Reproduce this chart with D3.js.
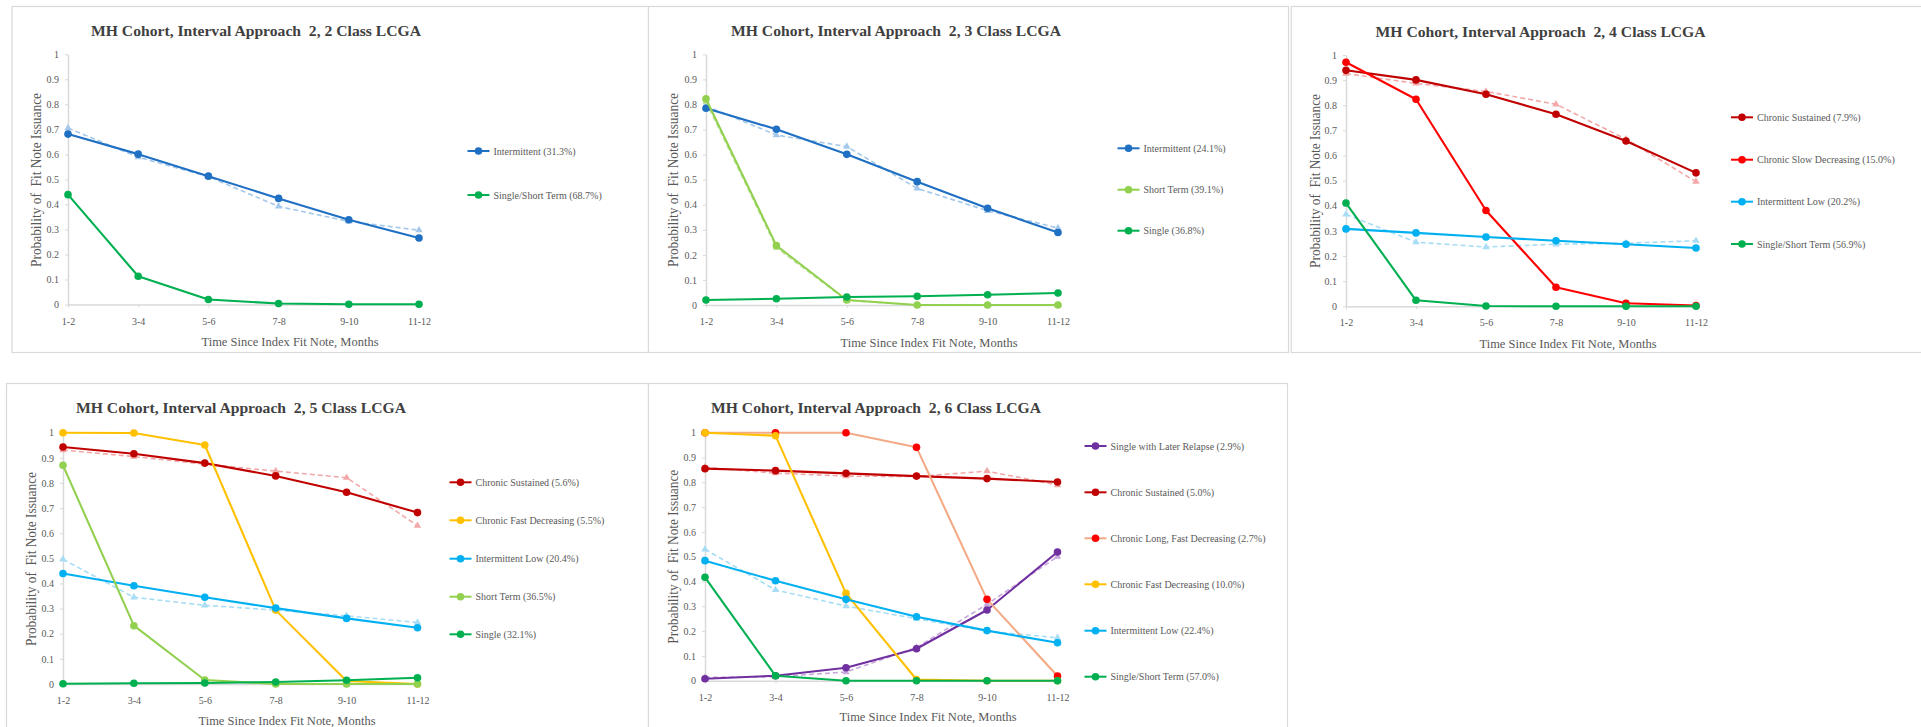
<!DOCTYPE html>
<html>
<head>
<meta charset="utf-8">
<script src="https://cdn.jsdelivr.net/npm/d3@7/dist/d3.min.js"></script>
<style>
  html, body { margin: 0; padding: 0; background: #ffffff; }
  svg { display: block; }
  text { font-family: "Liberation Serif", "Times New Roman", serif; white-space: pre; }
</style>
</head>
<body>
<svg id="chart" width="1921" height="727"></svg>
<script>
// ---- Shared categories and axis ticks ----
const months = ["1-2", "3-4", "5-6", "7-8", "9-10", "11-12"];
const probTicks = [0, 0.1, 0.2, 0.3, 0.4, 0.5, 0.6, 0.7, 0.8, 0.9, 1];
const probTickLabels = ["0", "0.1", "0.2", "0.3", "0.4", "0.5", "0.6", "0.7", "0.8", "0.9", "1"];

const panelTitles = [
  "MH Cohort, Interval Approach  2, 2 Class LCGA",
  "MH Cohort, Interval Approach  2, 3 Class LCGA",
  "MH Cohort, Interval Approach  2, 4 Class LCGA",
  "MH Cohort, Interval Approach  2, 5 Class LCGA",
  "MH Cohort, Interval Approach  2, 6 Class LCGA"
];
const xAxisTitle = "Time Since Index Fit Note, Months";
const yAxisTitle = "Probability of  Fit Note Issuance";

// ---- 2 class model ----
const c2Labels = ["Intermittent (31.3%)", "Single/Short Term (68.7%)"];
const c2Intermittent = [0.681, 0.601, 0.513, 0.424, 0.339, 0.266];
const c2IntermittentObs = [0.705, 0.589, 0.511, 0.392, 0.332, 0.297];
const c2SingleShort = [0.439, 0.113, 0.020, 0.004, 0.001, 0.001];

// ---- 3 class model ----
const c3Labels = ["Intermittent (24.1%)", "Short Term (39.1%)", "Single (36.8%)"];
const c3Intermittent = [0.785, 0.701, 0.601, 0.492, 0.386, 0.289];
const c3IntermittentObs = [0.794, 0.678, 0.632, 0.465, 0.376, 0.307];
const c3ShortTerm = [0.822, 0.237, 0.020, 0.000, 0.000, 0.000];
const c3ShortTermObs = [0.810, 0.228, 0.018, 0.000, 0.000, 0.000];
const c3Single = [0.020, 0.025, 0.032, 0.035, 0.041, 0.048];

// ---- 4 class model ----
const c4Labels = ["Chronic Sustained (7.9%)", "Chronic Slow Decreasing (15.0%)", "Intermittent Low (20.2%)", "Single/Short Term (56.9%)"];
const c4ChronicSustained = [0.939, 0.901, 0.844, 0.764, 0.658, 0.531];
const c4ChronicSustainedObs = [0.926, 0.887, 0.855, 0.804, 0.665, 0.496];
const c4ChronicSlow = [0.971, 0.824, 0.381, 0.076, 0.012, 0.003];
const c4IntermittentLow = [0.308, 0.292, 0.276, 0.261, 0.247, 0.232];
const c4IntermittentLowObs = [0.366, 0.255, 0.236, 0.247, 0.251, 0.261];
const c4SingleShort = [0.411, 0.024, 0.001, 0.000, 0.000, 0.000];

// ---- 5 class model ----
const c5Labels = ["Chronic Sustained (5.6%)", "Chronic Fast Decreasing (5.5%)", "Intermittent Low (20.4%)", "Short Term (36.5%)", "Single (32.1%)"];
const c5ChronicSustained = [0.943, 0.916, 0.879, 0.828, 0.763, 0.682];
const c5ChronicSustainedObs = [0.931, 0.905, 0.875, 0.847, 0.821, 0.630];
const c5ChronicFast = [1.000, 0.999, 0.951, 0.294, 0.012, 0.000];
const c5IntermittentLow = [0.440, 0.391, 0.345, 0.302, 0.261, 0.224];
const c5IntermittentLowObs = [0.496, 0.345, 0.313, 0.294, 0.271, 0.245];
const c5ShortTerm = [0.870, 0.232, 0.016, 0.000, 0.000, 0.000];
const c5Single = [0.001, 0.003, 0.004, 0.008, 0.015, 0.025];

// ---- 6 class model ----
const c6Labels = ["Single with Later Relapse (2.9%)", "Chronic Sustained (5.0%)", "Chronic Long, Fast Decreasing (2.7%)", "Chronic Fast Decreasing (10.0%)", "Intermittent Low (22.4%)", "Single/Short Term (57.0%)"];
const c6SingleRelapse = [0.008, 0.020, 0.052, 0.129, 0.285, 0.519];
const c6SingleRelapseObs = [0.013, 0.016, 0.035, 0.134, 0.308, 0.500];
const c6ChronicSustained = [0.855, 0.847, 0.836, 0.825, 0.815, 0.801];
const c6ChronicSustainedObs = [0.860, 0.837, 0.825, 0.823, 0.845, 0.789];
const c6ChronicLongFast = [1.000, 1.000, 1.000, 0.941, 0.328, 0.019];
const c6ChronicFast = [1.000, 0.988, 0.352, 0.005, 0.000, 0.000];
const c6IntermittentLow = [0.484, 0.403, 0.328, 0.258, 0.202, 0.153];
const c6IntermittentLowObs = [0.530, 0.366, 0.301, 0.250, 0.200, 0.173];
const c6SingleShort = [0.417, 0.020, 0.000, 0.000, 0.000, 0.000];

// ---- Palette ----
const col = {
  blue: "#1f6fc3", blueObs: "#a4c8ea",
  cyan: "#00b0f0", cyanObs: "#a8def5",
  darkRed: "#c00000", darkRedObs: "#f2a8a8",
  red: "#ff0000", salmon: "#f4aa86",
  yellow: "#ffc000",
  lightGreen: "#92d050", lightGreenObs: "#c6e6a4",
  green: "#00b050",
  purple: "#7030a0", purpleObs: "#c8a8dc"
};

// Panel layout and the series each panel shows
const panels = [
  {
    title: panelTitles[0], box: [11.5, 6, 648, 352],
    ax: 68, aw: 351, yTop: 54.3, yBot: 304.5,
    titleX: 256, titleY: 36, xtX: 290, xtY: 346, ytX: 36.5, ytY: 180,
    legX: 478.5, legY: [151, 195],
    series: [
      { label: c2Labels[0], values: c2Intermittent, obs: c2IntermittentObs, color: col.blue, obsColor: col.blueObs },
      { label: c2Labels[1], values: c2SingleShort, color: col.green }
    ]
  },
  {
    title: panelTitles[1], box: [648, 6, 1288, 352],
    ax: 706, aw: 352, yTop: 54.3, yBot: 305,
    titleX: 896, titleY: 36, xtX: 929, xtY: 346.5, ytX: 673, ytY: 180,
    legX: 1128.5, legY: [148.3, 189.7, 230.7],
    series: [
      { label: c3Labels[0], values: c3Intermittent, obs: c3IntermittentObs, color: col.blue, obsColor: col.blueObs },
      { label: c3Labels[1], values: c3ShortTerm, obs: c3ShortTermObs, color: col.lightGreen, obsColor: col.lightGreenObs },
      { label: c3Labels[2], values: c3Single, color: col.green }
    ]
  },
  {
    title: panelTitles[2], box: [1290.7, 6, 1930, 352],
    ax: 1346, aw: 350, yTop: 55, yBot: 306.3,
    titleX: 1540.6, titleY: 36.5, xtX: 1568, xtY: 347.5, ytX: 1315, ytY: 181,
    legX: 1742, legY: [117.3, 159.7, 201.7, 244],
    series: [
      { label: c4Labels[0], values: c4ChronicSustained, obs: c4ChronicSustainedObs, color: col.darkRed, obsColor: col.darkRedObs },
      { label: c4Labels[1], values: c4ChronicSlow, color: col.red },
      { label: c4Labels[2], values: c4IntermittentLow, obs: c4IntermittentLowObs, color: col.cyan, obsColor: col.cyanObs },
      { label: c4Labels[3], values: c4SingleShort, color: col.green }
    ]
  },
  {
    title: panelTitles[3], box: [6, 383, 648, 740],
    ax: 63, aw: 354.5, yTop: 432.7, yBot: 684,
    titleX: 241, titleY: 413.3, xtX: 287, xtY: 725, ytX: 31, ytY: 559,
    legX: 460.5, legY: [482.3, 520.3, 558.7, 596.7, 634.3],
    series: [
      { label: c5Labels[0], values: c5ChronicSustained, obs: c5ChronicSustainedObs, color: col.darkRed, obsColor: col.darkRedObs },
      { label: c5Labels[1], values: c5ChronicFast, color: col.yellow },
      { label: c5Labels[2], values: c5IntermittentLow, obs: c5IntermittentLowObs, color: col.cyan, obsColor: col.cyanObs },
      { label: c5Labels[3], values: c5ShortTerm, color: col.lightGreen },
      { label: c5Labels[4], values: c5Single, color: col.green }
    ]
  },
  {
    title: panelTitles[4], box: [648, 383, 1287, 740],
    ax: 705, aw: 352.5, yTop: 432.7, yBot: 680.7,
    titleX: 876, titleY: 413, xtX: 928, xtY: 721, ytX: 673, ytY: 556.7,
    legX: 1095.5, legY: [446, 492.3, 538.3, 584.3, 630.7, 676.7],
    series: [
      { label: c6Labels[0], values: c6SingleRelapse, obs: c6SingleRelapseObs, color: col.purple, obsColor: col.purpleObs },
      { label: c6Labels[1], values: c6ChronicSustained, obs: c6ChronicSustainedObs, color: col.darkRed, obsColor: col.darkRedObs },
      { label: c6Labels[2], values: c6ChronicLongFast, color: col.salmon, markerColor: col.red },
      { label: c6Labels[3], values: c6ChronicFast, color: col.yellow },
      { label: c6Labels[4], values: c6IntermittentLow, obs: c6IntermittentLowObs, color: col.cyan, obsColor: col.cyanObs },
      { label: c6Labels[5], values: c6SingleShort, color: col.green }
    ]
  }
];

const svg = d3.select("#chart");
const tri = d3.symbol().type(d3.symbolTriangle).size(24);
const markerR = 3.8;

function drawPanel(p) {
  const g = svg.append("g");
  const [bx0, by0, bx1, by1] = p.box;

  // panel frame
  g.append("rect")
    .attr("x", bx0 + 0.5).attr("y", by0 + 0.5)
    .attr("width", bx1 - bx0).attr("height", by1 - by0)
    .attr("fill", "#ffffff").attr("stroke", "#d9d9d9").attr("stroke-width", 1.2);

  const x = d3.scalePoint().domain(months).range([p.ax, p.ax + p.aw]);
  const y = d3.scaleLinear().domain([0, 1]).range([p.yBot, p.yTop]);

  // axes
  const yAxis = g.append("g").attr("transform", `translate(${p.ax},0)`)
    .call(d3.axisLeft(y).tickValues(probTicks)
      .tickFormat((d, i) => probTickLabels[i]).tickSize(3).tickPadding(6).tickSizeOuter(0));
  const xAxis = g.append("g").attr("transform", `translate(0,${p.yBot})`)
    .call(d3.axisBottom(x).tickSize(3).tickPadding(10).tickSizeOuter(0));
  [yAxis, xAxis].forEach(a => {
    a.select(".domain").attr("stroke", "#d9d9d9").attr("stroke-width", 1.5);
    a.selectAll(".tick line").attr("stroke", "#d9d9d9").attr("stroke-width", 1);
    a.selectAll(".tick text")
      .attr("fill", "#595959")
      .style("font-family", "'Liberation Serif', serif")
      .style("font-size", "10px");
  });

  // titles
  g.append("text")
    .attr("x", p.titleX).attr("y", p.titleY)
    .attr("text-anchor", "middle")
    .attr("fill", "#404040")
    .style("font-size", "15px").style("font-weight", "bold")
    .attr("textLength", 330).attr("lengthAdjust", "spacingAndGlyphs")
    .text(p.title);
  g.append("text")
    .attr("x", p.xtX).attr("y", p.xtY)
    .attr("text-anchor", "middle")
    .attr("fill", "#595959")
    .style("font-size", "13px")
    .attr("textLength", 177).attr("lengthAdjust", "spacingAndGlyphs")
    .text(xAxisTitle);
  g.append("text")
    .attr("transform", `translate(${p.ytX + 4.8},${p.ytY}) rotate(-90)`)
    .attr("text-anchor", "middle")
    .attr("fill", "#595959")
    .style("font-size", "14px")
    .attr("textLength", 174).attr("lengthAdjust", "spacingAndGlyphs")
    .text(yAxisTitle);

  const line = d3.line().x((d, i) => x(months[i])).y(d => y(d));

  // observed proportions: dashed with triangle markers, behind the model lines
  p.series.filter(s => s.obs).forEach(s => {
    g.append("path").datum(s.obs)
      .attr("d", line).attr("fill", "none")
      .attr("stroke", s.obsColor).attr("stroke-width", 1.6)
      .attr("stroke-dasharray", "5,3");
    g.selectAll(null).data(s.obs).enter().append("path")
      .attr("d", tri)
      .attr("transform", (d, i) => `translate(${x(months[i])},${y(d)})`)
      .attr("fill", s.obsColor);
  });

  // estimated class trajectories
  p.series.forEach(s => {
    g.append("path").datum(s.values)
      .attr("d", line).attr("fill", "none")
      .attr("stroke", s.color).attr("stroke-width", 2.1)
      .attr("stroke-linejoin", "round");
    g.selectAll(null).data(s.values).enter().append("circle")
      .attr("cx", (d, i) => x(months[i])).attr("cy", d => y(d))
      .attr("r", markerR)
      .attr("fill", s.markerColor || s.color);
  });

  // legend
  p.series.forEach((s, i) => {
    const ly = p.legY[i];
    g.append("line")
      .attr("x1", p.legX - 11).attr("x2", p.legX + 11)
      .attr("y1", ly).attr("y2", ly)
      .attr("stroke", s.color).attr("stroke-width", 2);
    g.append("circle").attr("cx", p.legX).attr("cy", ly).attr("r", markerR)
      .attr("fill", s.markerColor || s.color);
    g.append("text")
      .attr("x", p.legX + 15).attr("y", ly + 3.5)
      .attr("fill", "#595959")
      .style("font-size", "10px")
      .text(s.label);
  });
}

panels.forEach(drawPanel);
</script>
</body>
</html>
